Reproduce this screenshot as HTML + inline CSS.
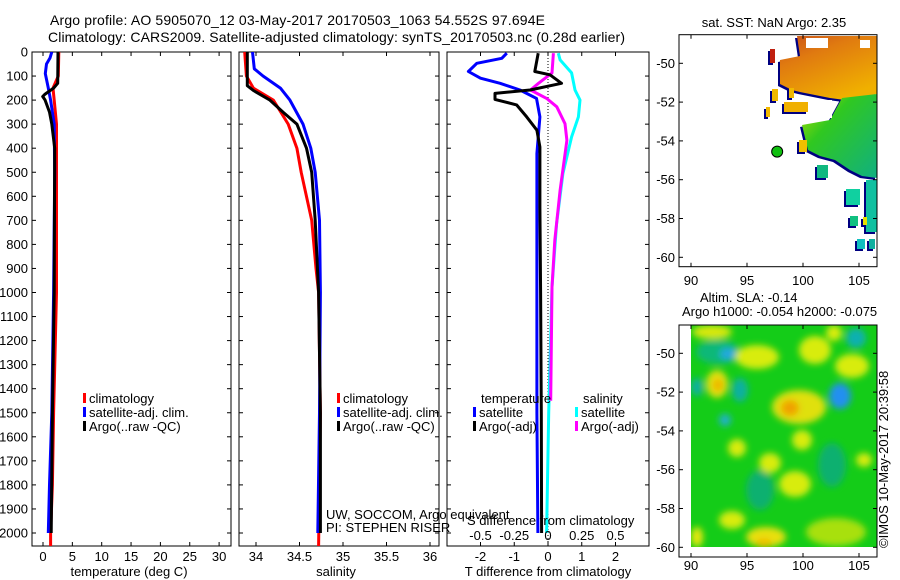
<!DOCTYPE html>
<html><head><meta charset="utf-8">
<style>
html,body{margin:0;padding:0;background:#fff;}
svg{display:block;font-family:"Liberation Sans",sans-serif;}
</style></head>
<body>
<svg id="fig" width="900" height="580" viewBox="0 0 900 580" xmlns="http://www.w3.org/2000/svg">
<defs>
  <filter id="blur" x="-50%" y="-50%" width="200%" height="200%"><feGaussianBlur stdDeviation="3.5"/></filter>
  <clipPath id="cp1"><rect x="32" y="52" width="199" height="494"/></clipPath>
  <clipPath id="cp2"><rect x="239" y="52" width="200" height="494"/></clipPath>
  <clipPath id="cp3"><rect x="447" y="52" width="202" height="494"/></clipPath>
  <clipPath id="cpm2"><rect x="691" y="325" width="186" height="222"/></clipPath>
  <linearGradient id="orangeGrad" x1="0" y1="0" x2="0.6" y2="1">
    <stop offset="0" stop-color="#c8501a"/><stop offset="0.35" stop-color="#e07a10"/><stop offset="1" stop-color="#f0b000"/>
  </linearGradient>
  <linearGradient id="greenGrad" x1="0" y1="0" x2="1" y2="1">
    <stop offset="0" stop-color="#b8e000"/><stop offset="0.35" stop-color="#30c820"/><stop offset="1" stop-color="#10b080"/>
  </linearGradient>
</defs>
<text x="50" y="25" font-size="14" textLength="495">Argo profile: AO 5905070_12 03-May-2017 20170503_1063 54.552S 97.694E</text>
<text x="48" y="42" font-size="14" textLength="577">Climatology: CARS2009. Satellite-adjusted climatology: synTS_20170503.nc (0.28d earlier)</text>
<g id="g1"></g>
<g id="g2"></g>
<g id="g3"></g>
<g id="m1"></g>
<g id="m2"></g>
<text transform="translate(888,548) rotate(-90)" font-size="13">©IMOS 10-May-2017 20:39:58</text>
</svg>
<script>
// ---------- data ----------
const depthTicks = [0,100,200,300,400,500,600,700,800,900,1000,1100,1200,1300,1400,1500,1600,1700,1800,1900,2000];
const tempTicks = [0,5,10,15,20,25,30];
const salTicks = [34,34.5,35,35.5,36];
const salTickLabels = ["34","34.5","35","35.5","36"];
const tdTicks = [-2,-1,0,1,2];
const sdTicks = [-0.5,-0.25,0,0.25,0.5];
const sdTickLabels = ["-0.5","-0.25","0","0.25","0.5"];

const tClimDepth = [0,100,150,200,300,500,700,1000,1500,1800,2000,2055];
const tClimVal   = [2.7,2.6,1.7,1.9,2.3,2.3,2.3,2.3,1.8,1.6,1.3,1.3];
const tSatDepth  = [0,25,50,90,150,200,300,500,1000,1500,1800,2000];
const tSatVal    = [1.5,1.2,0.6,0.4,0.9,1.3,1.9,2.0,1.8,1.5,1.1,0.9];
const tArgoDepth = [0,130,150,175,185,200,250,300,400,1000,1500,2000];
const tArgoVal   = [2.55,2.5,1.8,0.35,-0.05,0.35,1.1,1.5,2.0,1.9,1.6,1.4];

const sClimDepth = [0,100,150,200,300,400,500,700,900,1000,1500,2055];
const sClimVal   = [33.87,33.89,33.97,34.2,34.37,34.47,34.52,34.64,34.69,34.72,34.74,34.72];
const sSatDepth  = [0,70,100,150,200,300,400,500,700,1000,1500,2000];
const sSatVal    = [33.96,33.98,34.08,34.28,34.39,34.54,34.63,34.68,34.73,34.74,34.73,34.71];
const sArgoDepth = [0,140,160,200,250,300,400,500,700,1000,1500,2000];
const sArgoVal   = [33.9,33.9,33.97,34.16,34.31,34.47,34.58,34.64,34.68,34.72,34.74,34.74];

const dTSatDepth = [5,26,47,81,109,130,158,193,270,422,1000,1500,2000];
const dTSatVal   = [-1.22,-1.37,-2.11,-2.36,-2.0,-1.42,-0.83,-0.34,-0.24,-0.33,-0.33,-0.33,-0.3];
const dTArgoDepth= [5,81,95,130,158,172,197,220,270,325,395,645,1000,1500,2000];
const dTArgoVal  = [-0.29,-0.39,0.06,0.4,-0.53,-1.57,-1.57,-0.93,-0.63,-0.33,-0.24,-0.24,-0.22,-0.2,-0.19];
const dSSatDepth = [5,33,87,158,200,270,353,506,714,977,1500,2000];
const dSSatVal   = [0.076,0.09,0.175,0.2,0.237,0.225,0.175,0.11,0.064,0.03,0.005,-0.01];
const dSArgoDepth= [5,87,130,158,193,228,298,367,575,783,977,1450];
const dSArgoVal  = [0.04,0.03,-0.07,-0.13,-0.01,0.065,0.126,0.14,0.09,0.05,0.03,0.02];

const lonTicks = [90,95,100,105];
const latTicks = [-50,-52,-54,-56,-58,-60];
const argoLon = 97.694, argoLat = -54.552;

// ---------- helpers ----------
const NS="http://www.w3.org/2000/svg";
function mk(parent, tag, attrs){const e=document.createElementNS(NS,tag);for(const k in attrs)e.setAttribute(k,attrs[k]);parent.appendChild(e);return e;}
const yD = d => 52 + d*0.2405;
const xT = v => 43 + v*5.87;
const xS = v => 256 + (v-34)*87;
const xDT = v => 548 + v*33.75;
const xDS = v => 548 + v*135;

function frame(g, x0, x1){
  const r=mk(g,'rect',{x:x0,y:52,width:x1-x0,height:494,fill:'none',stroke:'#000','stroke-width':1});
  
  
}
function yTicks(g,x0,x1,labels){
  depthTicks.forEach(d=>{
    const y=yD(d);
    mk(g,'line',{x1:x0,y1:y,x2:x0+4,y2:y,stroke:'#000'});
    mk(g,'line',{x1:x1,y1:y,x2:x1-4,y2:y,stroke:'#000'});
    if(labels){const t=mk(g,'text',{x:x0-4,y:y+4.5,'font-size':13,'text-anchor':'end'});t.textContent=d;
      
      }
  });
}
function xTicks(g,ticks,labels,sx,ly){
  ticks.forEach((v,i)=>{
    const x=sx(v);
    mk(g,'line',{x1:x,y1:546,x2:x,y2:542,stroke:'#000'});
    mk(g,'line',{x1:x,y1:52,x2:x,y2:56,stroke:'#000'});
    const t=mk(g,'text',{x:x,y:ly,'font-size':13,'text-anchor':'middle'});t.textContent=labels[i];
    
    
  });
}
function line(g,depths,vals,sx,color,name,clip){
  const pts=depths.map((d,i)=>sx(vals[i]).toFixed(1)+','+yD(d).toFixed(1)).join(' ');
  const p=mk(g,'polyline',{points:pts,fill:'none',stroke:color,'stroke-width':3,'clip-path':'url(#'+clip+')','stroke-linejoin':'round'});
  
  
}
function legend(g,x,y,color,label,name){
  mk(g,'rect',{x:x,y:y-10,width:3,height:10,fill:color});
  const t=mk(g,'text',{x:x+6,y:y,'font-size':13});t.textContent=label;
  
  
}
function txt(g,x,y,s,name,anchor){
  const t=mk(g,'text',{x:x,y:y,'font-size':13,'text-anchor':anchor||'start'});t.textContent=s;
  
  
  return t;
}

// ---------- panel 1 ----------
const g1=document.getElementById('g1');
frame(g1,32,231); yTicks(g1,32,231,true);
xTicks(g1,tempTicks,tempTicks.map(String),xT,561);
line(g1,tClimDepth,tClimVal,xT,'#ff0000','temp-climatology-line','cp1');
line(g1,tSatDepth,tSatVal,xT,'#0000ff','temp-satellite-line','cp1');
line(g1,tArgoDepth,tArgoVal,xT,'#000000','temp-argo-line','cp1');
legend(g1,83,403,'#ff0000','climatology','legend-climatology');
legend(g1,83,417,'#0000ff','satellite-adj. clim.','legend-satellite');
legend(g1,83,431,'#000000','Argo(..raw -QC)','legend-argo');
txt(g1,129,576,'temperature (deg C)','x-axis-title-temperature','middle');

// ---------- panel 2 ----------
const g2=document.getElementById('g2');
frame(g2,239,439); yTicks(g2,239,439,false);
xTicks(g2,salTicks,salTickLabels,xS,561);
line(g2,sClimDepth,sClimVal,xS,'#ff0000','sal-climatology-line','cp2');
line(g2,sSatDepth,sSatVal,xS,'#0000ff','sal-satellite-line','cp2');
line(g2,sArgoDepth,sArgoVal,xS,'#000000','sal-argo-line','cp2');
legend(g2,337,403,'#ff0000','climatology','legend-climatology-2');
legend(g2,337,417,'#0000ff','satellite-adj. clim.','legend-satellite-2');
legend(g2,337,431,'#000000','Argo(..raw -QC)','legend-argo-2');
txt(g2,336,576,'salinity','x-axis-title-salinity','middle');
txt(g2,326,519,'UW, SOCCOM, Argo equivalent','pi-institution');
txt(g2,326,532,'PI: STEPHEN RISER','pi-name');

// ---------- panel 3 ----------
const g3=document.getElementById('g3');
frame(g3,447,649); yTicks(g3,447,649,false);
xTicks(g3,tdTicks,tdTicks.map(String),xDT,561);
mk(g3,'line',{x1:xDT(0),y1:52,x2:xDT(0),y2:546,stroke:'#000','stroke-dasharray':'1,2'});
line(g3,dSSatDepth,dSSatVal,xDS,'#00ffff','sdiff-satellite-line','cp3');
line(g3,dSArgoDepth,dSArgoVal,xDS,'#ff00ff','sdiff-argo-line','cp3');
line(g3,dTSatDepth,dTSatVal,xDT,'#0000ff','tdiff-satellite-line','cp3');
line(g3,dTArgoDepth,dTArgoVal,xDT,'#000000','tdiff-argo-line','cp3');
txt(g3,481,403,'temperature','legend-temperature-header');
legend(g3,473,417,'#0000ff','satellite','legend-t-satellite');
legend(g3,473,431,'#000000','Argo(-adj)','legend-t-argo');
txt(g3,583,403,'salinity','legend-salinity-header');
legend(g3,575,417,'#00ffff','satellite','legend-s-satellite');
legend(g3,575,431,'#ff00ff','Argo(-adj)','legend-s-argo');
txt(g3,467,525,'S difference from climatology','s-axis-title');
sdTicks.forEach((v,i)=>{const t=txt(g3,xDS(v),540,sdTickLabels[i],'s-tick-label','middle');});
txt(g3,548,576,'T difference from climatology','x-axis-title-tdiff','middle');

// ---------- maps ----------
const mlon1 = v => 691 + (v-90)*11.2;
const mlat = v => 63.3 + (-50 - v)*19.4;
function mapAxes(g,top,bottom,latOff,labY){
  const r=mk(g,'rect',{x:679,y:top,width:198,height:bottom-top,fill:'none',stroke:'#000'});
  
  
  latTicks.forEach(l=>{const y=mlat(l)+latOff;
    mk(g,'line',{x1:679,y1:y,x2:683,y2:y,stroke:'#000'});mk(g,'line',{x1:877,y1:y,x2:873,y2:y,stroke:'#000'});
    txt(g,675,y+4.5,String(l),'lat-tick-label','end');});
  lonTicks.forEach(l=>{const x=mlon1(l);
    mk(g,'line',{x1:x,y1:bottom,x2:x,y2:bottom-4,stroke:'#000'});mk(g,'line',{x1:x,y1:top,x2:x,y2:top+4,stroke:'#000'});
    txt(g,x,labY,String(l),'lon-tick-label','middle');});
}
// map 1 (SST imagery)
const m1=document.getElementById('m1');
txt(m1,774,27,'sat. SST: NaN Argo: 2.35','sst-map-title','middle');
const navy='#000080';
function patch(g,x,y,w,h,fill){mk(g,'rect',{x:x-2,y:y+2,width:w,height:h,fill:navy});mk(g,'rect',{x:x,y:y,width:w,height:h,fill:fill});}
mk(m1,'path',{d:'M 802 125 L 830 120 L 842 98 L 877 94 L 877 178 L 862 176 L 850 170 L 835 160 L 820 156 L 808 150 Z',fill:navy,transform:'translate(-2,2)'});
mk(m1,'path',{d:'M 780 60 L 800 56 L 797 36 L 877 36 L 877 94 L 845 100 L 830 98 L 815 95 L 800 92 L 792 90 L 780 84 Z',fill:navy,transform:'translate(-2,2)'});
mk(m1,'path',{d:'M 780 60 L 800 56 L 797 36 L 877 36 L 877 94 L 845 100 L 830 98 L 815 95 L 800 92 L 792 90 L 780 84 Z',fill:'url(#orangeGrad)'});
mk(m1,'path',{d:'M 802 125 L 830 120 L 842 98 L 877 94 L 877 178 L 862 176 L 850 170 L 835 160 L 820 156 L 808 150 Z',fill:'url(#greenGrad)'});
mk(m1,'rect',{x:806,y:38,width:22,height:10,fill:'#fff'});
mk(m1,'rect',{x:860,y:40,width:10,height:8,fill:'#fff'});
mk(m1,'rect',{x:812,y:100,width:20,height:18,fill:'#fff'});
patch(m1,770,49,5,14,'#c02010');
patch(m1,772,89,6,12,'#f0b800');
patch(m1,789,88,5,10,'#f0b800');
patch(m1,766,107,4,10,'#f0b800');
patch(m1,784,102,24,10,'#f0b000');
patch(m1,799,140,8,12,'#f0c000');
patch(m1,817,165,11,13,'#10b880');
patch(m1,866,180,11,52,'#10c0a0');
patch(m1,846,189,14,16,'#10d0a0');
patch(m1,850,216,8,10,'#10c080');
patch(m1,863,217,4,8,'#e8e000');
patch(m1,857,239,8,10,'#10c0c0');
patch(m1,869,239,6,10,'#10b0a0');
mapAxes(m1,34.7,266.7,0,285);
const dot=mk(m1,'circle',{cx:mlon1(argoLon),cy:mlat(argoLat),r:5.5,fill:'#10c010',stroke:'#000','stroke-width':1});



// map 2 (SLA imagery)
const m2=document.getElementById('m2');
txt(m2,700,302,'Altim. SLA: -0.14','sla-map-title');
txt(m2,682,316,'Argo h1000: -0.054 h2000: -0.075','argo-height-label');
const cg=mk(m2,'g',{'clip-path':'url(#cpm2)'});
mk(cg,'rect',{x:691,y:325,width:186,height:222,fill:'#14cc18'});
const bl=mk(cg,'g',{filter:'url(#blur)'});
const blobs=[
 [718,352,22,12,'#10b878'],[728,354,8,6,'#20a8e0'],[740,390,8,12,'#10b0a0'],[697,387,6,9,'#10b0a0'],
 [856,338,10,10,'#10b0b0'],[832,465,14,22,'#10b070'],[760,490,14,20,'#10b070'],[725,420,6,6,'#20b0d0'],
 [712,332,20,7,'#d8e810'],[757,357,22,12,'#d8ec10'],[815,350,16,14,'#d8ec10'],[852,366,17,12,'#d8ec10'],[834,333,8,8,'#d8ec10'],
 [717,384,11,14,'#e0e010'],[718,385,5,6,'#f0b000'],[799,407,27,17,'#e0e010'],[790,408,9,8,'#f0a000'],
 [840,396,11,13,'#2090f0'],[737,448,9,9,'#d8ec10'],[802,440,10,10,'#d8ec10'],[770,463,11,10,'#d8ec10'],
 [795,484,16,13,'#d8ec10'],[864,460,8,7,'#d8ec10'],[697,537,6,10,'#e8e810'],[766,537,20,10,'#e8e010'],
 [764,543,8,5,'#f0c000'],[732,520,13,9,'#d8ec10'],[836,532,30,14,'#a8e010']
];
blobs.forEach(b=>mk(bl,'ellipse',{cx:b[0],cy:b[1],rx:b[2],ry:b[3],fill:b[4]}));
mapAxes(m2,325,557,290,570);
</script>
</body></html>
